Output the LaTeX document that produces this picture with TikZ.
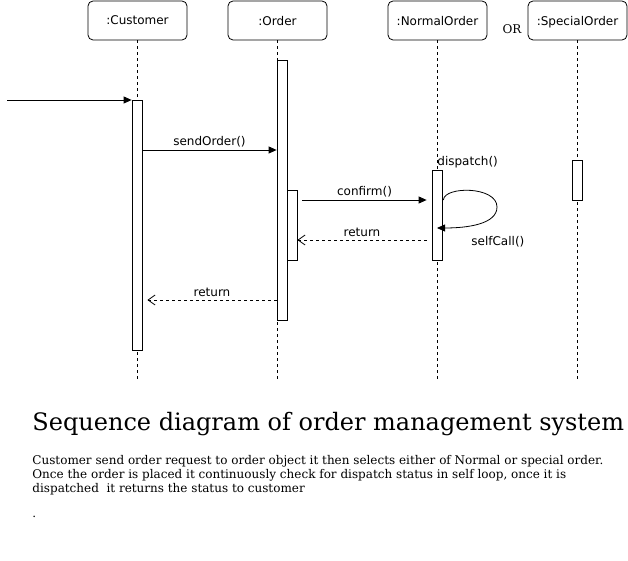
\documentclass[tikz,border=0pt]{standalone}
\usepackage{fontspec}
\setmainfont{DejaVu Serif}
\setsansfont{DejaVu Sans}
\usetikzlibrary{positioning,arrows.meta}
\tikzset{every picture/.style={line width=0.8pt}}
\tikzset{
  sdhead/.style ={rectangle, rounded corners=5pt, draw=black, minimum width=99pt,
                  minimum height=39pt, inner sep=2pt, text depth=0pt, font=\sffamily\fontsize{12}{14}\selectfont},
  sdbar/.style  ={rectangle, draw=black, fill=white, minimum width=10pt, inner sep=0pt},
  sdlife/.style ={dashed, dash pattern=on 3pt off 3pt},
  sdmsg/.style  ={-{Triangle[length=8pt,width=7pt]}},
  sdret/.style  ={dashed, dash pattern=on 3pt off 3pt, -{Straight Barb[length=7pt,width=10pt]}},
  sdlabel/.style={font=\sffamily\fontsize{12}{14}\selectfont, inner sep=1pt},
}

\begin{document}
\begin{tikzpicture}[x=1pt, y=-1pt]
    \useasboundingbox (0,0) rectangle (628,561);
        \node[sdhead] (cust) at (137.5,20.5) {:Customer};
        \node[sdhead] (ord) at (277.5,20.5) {:Order};
        \node[sdhead] (norm) at (437.5,20.5) {:NormalOrder};
        \node[sdhead] (spec) at (577.5,20.5) {:SpecialOrder};
        \node[font=\fontsize{12}{14}\selectfont, inner sep=0pt] (or) at (512,29) {OR};
        \foreach \h in {cust,ord,norm,spec}
            \draw[sdlife] (\h.south) -- (\h.south |- 0,380);
        \node[sdbar, minimum height=250pt, anchor=north] (cbar) at (137,100) {};
        \node[sdbar, minimum height=260pt, anchor=north] (obar) at (282,60) {};
        \node[sdbar, minimum height=70pt, anchor=north] (obar2) at (292,190) {};
        \node[sdbar, minimum height=90pt, anchor=north] (nbar) at (437,170) {};
        \node[sdbar, minimum height=40pt, anchor=north] (sbar) at (577,160) {};
        \coordinate (start) at (7,100);
        \draw[sdmsg] (start) -- (cbar.north west);
        \draw[sdmsg] (cbar.east |- 0,150) -- node[sdlabel, above=2pt] {sendOrder()} (obar.west |- 0,150);
        \draw[sdmsg] ([xshift=5pt]obar2.east |- 0,200) -- node[sdlabel, above=2pt] {confirm()} ([xshift=-5pt]nbar.west |- 0,200);
        \draw[sdret] ([xshift=-5pt]nbar.west |- 0,240) -- node[sdlabel, above=2pt] {return} (obar2.east |- 0,240);
        \draw[sdret] (obar.west |- 0,300) -- node[sdlabel, above=2pt] {return} ([xshift=5pt]cbar.east |- 0,300);
        \draw[sdmsg] ([xshift=1pt]nbar.east |- 0,200) .. controls (444,186) and (497,186) .. (497,207)
            .. controls (497,224) and (468,228) .. (nbar.center |- 0,228);
        \node[sdlabel, anchor=south west] (disp) at (436,169) {dispatch()};
        \node[sdlabel, anchor=west] (self) at (470,242) {selfCall()};
        \node[font=\fontsize{24}{28}\selectfont, anchor=west, inner sep=0pt] (title) at (32,424) {Sequence diagram of order management system};
        \node[font=\fontsize{12}{14}\selectfont, anchor=north west, inner sep=0pt, align=left] (desc) at (32,455)
            {Customer send order request to order object it then selects either of Normal or special order.\\
             Once the order is placed it continuously check for dispatch status in self loop, once it is\\
             dispatched\ \ it returns the status to customer};
        \node[font=\fontsize{12}{14}\selectfont, anchor=west, inner sep=0pt] (dot) at (32,517) {.};
    \end{tikzpicture}
\end{document}
